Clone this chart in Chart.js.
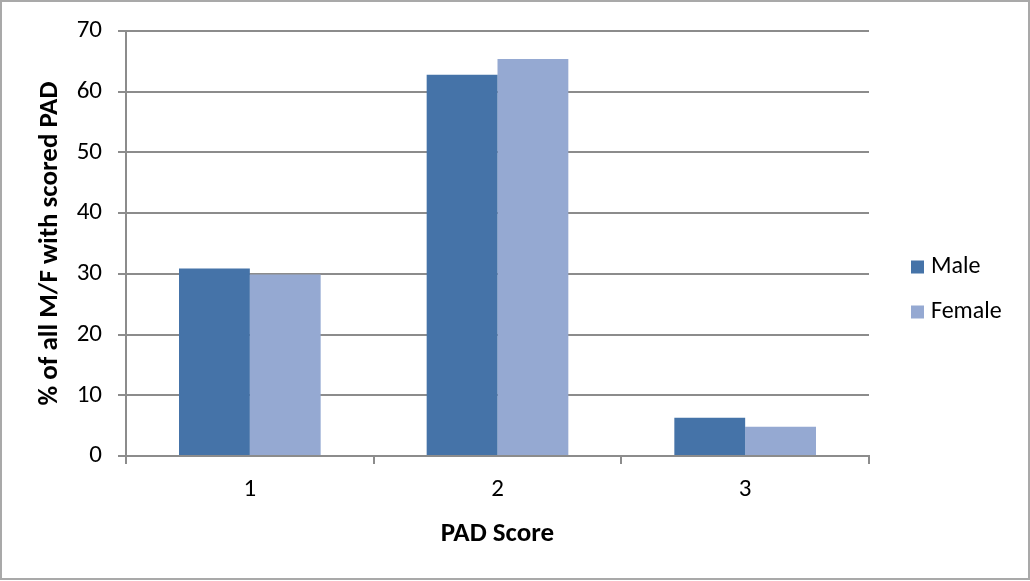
<!DOCTYPE html>
<html>
<head>
<meta charset="utf-8">
<script src="https://cdn.jsdelivr.net/npm/chart.js@4"></script>
<style>
  html, body { margin: 0; padding: 0; background: #fff; }
  #wrap { width: 1030px; height: 581px; position: relative; }
  canvas { display: block; }
</style>
</head>
<body>
<div id="wrap"><canvas id="c" width="1030" height="581"></canvas></div>
<script>
// PAD score distribution by sex (% of all males / females with a scored PAD)
const categories = ['1', '2', '3'];
const seriesNames = ['Male', 'Female'];
const maleValues = [30.9, 62.8, 6.3];
const femaleValues = [29.9, 65.4, 4.8];
const yTicks = [0, 10, 20, 30, 40, 50, 60, 70];

const FONT = 'Carlito, Lato, "Liberation Sans", sans-serif';
const GRID = '#8c8c8c';

// Legend drawn at the right of the plot, from the dataset labels and colours
const sideLegend = {
  id: 'sideLegend',
  afterDraw(chart) {
    const ctx = chart.ctx;
    ctx.save();
    ctx.font = '24px ' + FONT;
    ctx.textBaseline = 'middle';
    ctx.textAlign = 'left';
    chart.data.datasets.forEach((ds, i) => {
      const cy = 267 + i * 45;
      ctx.fillStyle = ds.backgroundColor;
      ctx.fillRect(911, cy - 6.5, 13, 13);
      ctx.fillStyle = '#000';
      ctx.fillText(ds.label, 931, cy);
    });
    ctx.restore();
  }
};

// Thin frame around the whole chart
const frame = {
  id: 'frame',
  afterDraw(chart) {
    const ctx = chart.ctx;
    ctx.save();
    ctx.strokeStyle = '#a9a9a9';
    ctx.lineWidth = 2;
    ctx.strokeRect(1, 1, chart.width - 2, chart.height - 3);
    ctx.restore();
  }
};

new Chart(document.getElementById('c'), {
  type: 'bar',
  data: {
    labels: categories,
    datasets: [
      { label: seriesNames[0], data: maleValues, backgroundColor: '#4573A8' },
      { label: seriesNames[1], data: femaleValues, backgroundColor: '#95A9D2' }
    ]
  },
  options: {
    responsive: false,
    animation: false,
    devicePixelRatio: 1,
    layout: { padding: { left: 0, top: 30, right: 161, bottom: 0 } },
    plugins: {
      legend: { display: false },
      tooltip: { enabled: false }
    },
    datasets: {
      bar: { categoryPercentage: 0.572, barPercentage: 1.0 }
    },
    scales: {
      x: {
        afterFit(scale) { scale.height = 125; },
        grid: { drawOnChartArea: false, drawTicks: true, tickLength: 8, color: GRID, lineWidth: 2, offset: true },
        border: { color: GRID, width: 2 },
        ticks: { color: '#000', font: { family: FONT, size: 25 }, padding: 11 },
        title: {
          display: true, text: 'PAD Score', color: '#000',
          font: { family: FONT, size: 27, weight: 'bold', lineHeight: 1.2 },
          padding: { top: 0, bottom: 31 }
        }
      },
      y: {
        min: 0, max: 70,
        afterFit(scale) { scale.width = 126; },
        afterBuildTicks(scale) { scale.ticks = yTicks.map(v => ({ value: v })); },
        grid: { color: GRID, lineWidth: 2, tickLength: 8, drawTicks: true },
        border: { color: GRID, width: 2 },
        ticks: { color: '#000', font: { family: FONT, size: 25 }, padding: 16 },
        title: {
          display: true, text: '% of all M/F with scored PAD', color: '#000',
          font: { family: FONT, size: 27, weight: 'bold', lineHeight: 1.2 },
          padding: { top: 34, bottom: 0 }
        }
      }
    }
  },
  plugins: [sideLegend, frame]
});
</script>
</body>
</html>
